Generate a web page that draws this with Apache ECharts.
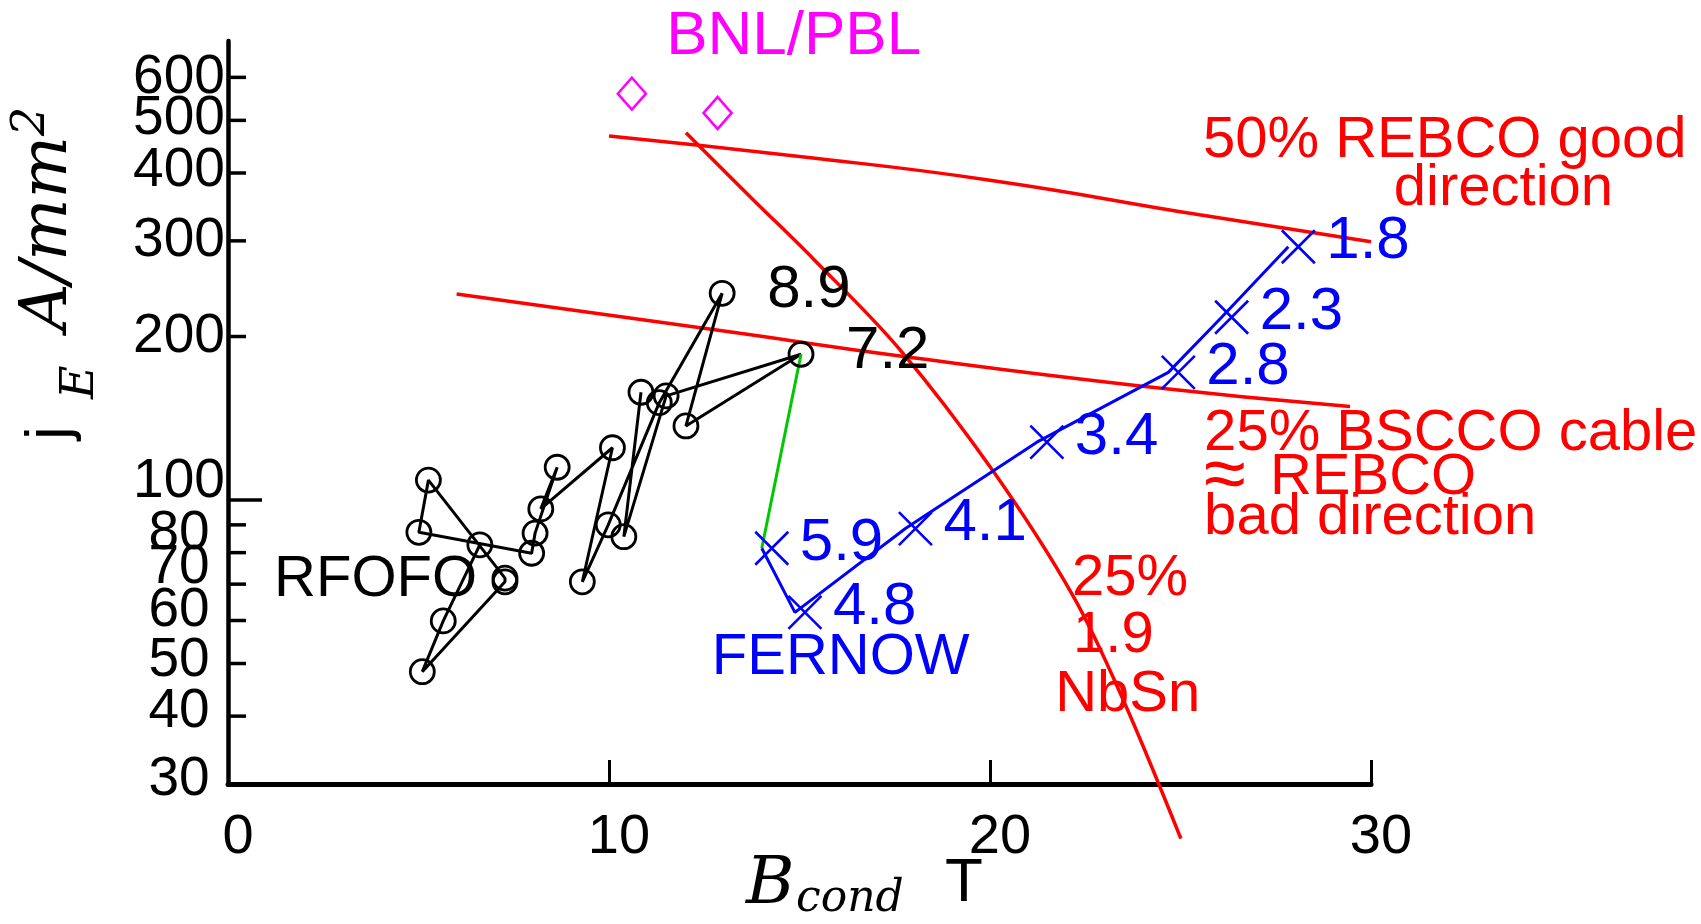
<!DOCTYPE html>
<html><head><meta charset="utf-8">
<script src="https://cdn.jsdelivr.net/npm/echarts@6/dist/echarts.min.js"></script>
<style>html,body{margin:0;padding:0;background:#fff}#c{width:1701px;height:924px}</style>
</head><body><div id="c"></div>
<script>
// ---------------- data ----------------
// RFOFO lattice points (black circles), in the order the black polyline visits them
const rfofoB = [10.84, 10.39, 11.50, 15.04, 12.02, 12.97, 11.32, 9.98, 9.30, 10.09, 8.21, 8.64, 8.06, 7.97, 5.01, 5.26, 7.27, 7.27, 5.10, 5.65, 6.61];
const rfofoJ = [157.9, 85.6, 155.5, 185.5, 136.9, 240.2, 151.1, 90.0, 70.7, 124.8, 96.3, 114.9, 86.9, 79.8, 87.2, 108.8, 71.8, 70.7, 48.3, 59.9, 82.7];
const rfofoLabels = ['', '', '', '7.2', '', '8.9', '', '', '', '', '', '', '', '', '', '', '', '', '', '', ''];
// FERNOW (blue crosses)
const fernowB = [14.01, 14.88, 17.78, 21.23, 24.68, 26.08, 27.83];
const fernowJ = [81.5, 62.1, 88.6, 127.8, 171.8, 217, 292.6];
const fernowLabels = ['5.9', '4.8', '4.1', '3.4', '2.8', '2.3', '1.8'];
// BNL/PBL (magenta diamonds)
const bnlB = [10.6, 12.85];
const bnlJ = [560, 516];
// conductor curves (red)
const rebco50B = [10.0, 15.0, 20.0, 25.5, 30.0];
const rebco50J = [468, 429, 388, 335, 299];
const bscco25B = [6.0, 13.44, 17.64, 23.94, 29.45];
const bscco25J = [239.5, 202.7, 184.1, 162.2, 148.6];
const nb3snB = [12.02, 13.79, 15.39, 17.64, 20.09, 22.19, 23.50, 25.01];
const nb3snJ = [474.4, 356.9, 276.7, 189.0, 112.8, 66.4, 42.8, 23.8];
// axis ticks / tick labels
const xTickLabels = [0, 10, 20, 30];
const yTickValues = [40, 50, 60, 70, 80, 90, 100, 200, 300, 400, 500, 600];
const yLabelValues = [30, 40, 50, 60, 70, 80, 100, 200, 300, 400, 500, 600];
// annotations
const noteTexts = ['BNL/PBL', '50% REBCO good', 'direction', '25% BSCCO cable', '{ap|\u2248} REBCO', 'bad direction', '25%', '1.9', 'NbSn', 'RFOFO', 'FERNOW'];
const noteB = [11.50, 25.59, 30.60, 25.62, 25.62, 25.62, 22.15, 22.18, 21.71, 1.21, 12.70];
const noteJ = [721, 464, 379, 134.0, 111.2, 93.9, 72.5, 56.8, 44.3, 72.2, 51.9];
const noteColors = ['#ff00ff', '#ff0000', '#ff0000', '#ff0000', '#ff0000', '#ff0000', '#ff0000', '#ff0000', '#ff0000', '#000000', '#0000ff'];

// ---------------- chart ----------------
const SANS = '"Liberation Sans", Arial, sans-serif';
const pts = (bs, js) => bs.map((b, i) => [b, js[i]]);
// vertical placement of the y tick labels relative to their ticks (as in the reference)
const yLabelLift = {30: 4, 40: 4, 50: 3, 60: 10, 70: 16, 80: 19, 100: 18, 200: 0, 300: 0, 400: 2, 500: 2, 600: 0};

const chart = echarts.init(document.getElementById('c'), null, {renderer: 'canvas', width: 1701, height: 924});

const redLine = (data, smooth) => ({
  type: 'line', data: data, smooth: smooth, symbol: 'none', clip: false, silent: true, z: 2,
  lineStyle: {color: '#ff0000', width: 3.5}
});

const option = {
  animation: false,
  backgroundColor: '#ffffff',
  grid: {left: 228, right: 330, top: 41, bottom: 140, containLabel: false},
  xAxis: {
    type: 'value', min: 0, max: 30, interval: 10,
    axisLine: {onZero: false, lineStyle: {color: '#000', width: 5}},
    axisTick: {inside: true, length: 24, lineStyle: {color: '#000', width: 3}},
    axisLabel: {fontSize: 56, fontFamily: SANS, color: '#000', margin: 26, padding: [0, 0, 0, 20],
      formatter: (v) => String(xTickLabels[Math.round(v / 10)])},
    splitLine: {show: false}
  },
  yAxis: {
    type: 'log', logBase: 10, min: 30, max: 700,
    axisLine: {show: true, onZero: false, lineStyle: {color: '#000', width: 4.5}},
    axisTick: {show: false}, axisLabel: {show: false}, splitLine: {show: false}
  },
  graphic: [
    // y axis title (rotated)
    {type: 'group', x: 72, y: 435, rotation: Math.PI / 2, silent: true, children: [
      {type: 'text', x: -5, y: -21.5, style: {text: 'j', font: '62px ' + SANS, fill: '#000', align: 'left', verticalAlign: 'middle'}},
      {type: 'text', x: 36, y: 9, style: {text: 'E', font: 'italic 46px "DejaVu Serif"', fill: '#000', align: 'left', verticalAlign: 'middle'}},
      {type: 'text', x: 104, y: -23, style: {text: 'A/mm', font: 'italic 66px "DejaVu Serif"', fill: '#000', align: 'left', verticalAlign: 'middle'}},
      {type: 'text', x: 299, y: -40, style: {text: '2', font: 'italic 46px "DejaVu Serif"', fill: '#000', align: 'left', verticalAlign: 'middle'}}
    ]},
    // x axis title
    {type: 'text', x: 746, y: 886, silent: true, style: {text: 'B', font: 'italic 66px "DejaVu Serif"', fill: '#000', align: 'left', verticalAlign: 'middle'}},
    {type: 'text', x: 796, y: 900, silent: true, style: {text: 'cond', font: 'italic 44px "DejaVu Serif"', fill: '#000', align: 'left', verticalAlign: 'middle'}},
    {type: 'text', x: 945, y: 884, silent: true, style: {text: 'T', font: '62px ' + SANS, fill: '#000', align: 'left', verticalAlign: 'middle'}}
  ],
  series: [
    redLine(pts(rebco50B, rebco50J), true),
    redLine(pts(bscco25B, bscco25J), true),
    redLine(pts(nb3snB, nb3snJ), 0.35),
    // y ticks
    {type: 'custom', silent: true, z: 5, data: yTickValues.map(v => [0, v]),
      renderItem: (p, api) => {
        const v = api.value(1);
        const c = api.coord([0, v]);
        const len = v === 100 ? 34 : 18;
        return {type: 'line', shape: {x1: c[0], y1: c[1], x2: c[0] + len, y2: c[1]}, style: {stroke: '#000', lineWidth: 3.5}};
      }},
    // y tick labels
    {type: 'custom', silent: true, z: 5, data: yLabelValues.map(v => [0, v]),
      renderItem: (p, api) => {
        const v = api.value(1);
        const c = api.coord([0, v]);
        return {type: 'text', x: c[0] - 49, y: c[1] - (yLabelLift[v] || 0),
          style: {text: String(v), font: '55px ' + SANS, fill: '#000', align: 'center', verticalAlign: 'middle'}};
      }},
    // RFOFO polyline
    {type: 'line', data: pts(rfofoB, rfofoJ), symbol: 'none', silent: true, z: 3,
      lineStyle: {color: '#000', width: 3}},
    // RFOFO circles
    {type: 'scatter', silent: true, z: 4, symbol: 'circle', symbolSize: 24,
      itemStyle: {color: 'rgba(0,0,0,0)', borderColor: '#000', borderWidth: 2.8, opacity: 1},
      data: rfofoB.map((b, i) => ({value: [b, rfofoJ[i]],
        label: {show: rfofoLabels[i] !== '', formatter: rfofoLabels[i], position: 'inside', align: 'left', verticalAlign: 'middle',
          offset: [45, -3], fontSize: 60, fontFamily: SANS, color: '#000'}}))},
    // green link RFOFO -> FERNOW
    {type: 'line', silent: true, z: 3, symbol: 'none',
      data: [[rfofoB[3], rfofoJ[3]], [fernowB[0], fernowJ[0]]],
      lineStyle: {color: '#00c800', width: 3}},
    // FERNOW line
    {type: 'line', silent: true, z: 3, symbol: 'none', data: pts(fernowB, fernowJ),
      lineStyle: {color: '#0000ff', width: 3}},
    // FERNOW crosses + labels
    {type: 'scatter', silent: true, z: 4, symbol: 'path://M0,0L10,10M10,0L0,10', symbolSize: 33, symbolOffset: [10, 0],
      itemStyle: {color: '#0000ff', borderColor: '#0000ff', borderWidth: 2.6, opacity: 1},
      data: fernowB.map((b, i) => ({value: [b, fernowJ[i]],
        label: {show: true, formatter: fernowLabels[i], position: 'inside', align: 'left', verticalAlign: 'middle',
          offset: [28, -5], fontSize: 60, fontFamily: SANS, color: '#0000ff'}}))},
    // BNL/PBL diamonds
    {type: 'scatter', silent: true, z: 4, symbol: 'diamond', symbolSize: [28, 32],
      itemStyle: {color: 'rgba(0,0,0,0)', borderColor: '#ff00ff', borderWidth: 2.6, opacity: 1},
      data: pts(bnlB, bnlJ)},
    // annotations
    {type: 'scatter', silent: true, z: 6, clip: false, symbolSize: 1,
      itemStyle: {color: 'rgba(0,0,0,0)', opacity: 1},
      data: noteTexts.map((t, i) => ({value: [noteB[i], noteJ[i]],
        label: {show: true, formatter: t, position: 'inside', align: 'left', verticalAlign: 'middle', offset: [0, 3],
          fontSize: i === 0 ? 62 : 58, fontFamily: SANS, color: noteColors[i],
          rich: {ap: {fontSize: 76, fontFamily: SANS, color: noteColors[i], padding: [0, 8, 0, 0]}}}}))}
  ]
};
chart.setOption(option);
</script>
</body></html>
